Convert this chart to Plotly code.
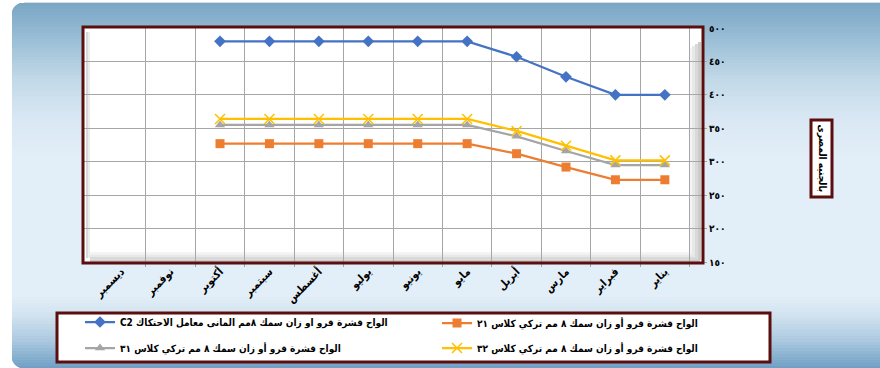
import plotly.graph_objects as go

W, H = 880, 368

months = ["يناير", "فبراير", "مارس", "أبريل", "مايو", "يونيو",
          "يوليو", "أغسطس", "سبتمبر", "أكتوبر", "نوفمبر", "ديسمبر"]

blue_c2 = [400, 400, 427, 457, 480, 480, 480, 480, 480, 480, None, None]
orange_21 = [273, 273, 292, 312, 327, 327, 327, 327, 327, 327, None, None]
gray_31 = [295, 295, 316, 338, 355, 355, 355, 355, 355, 355, None, None]
yellow_32 = [302, 302, 324, 346, 364, 364, 364, 364, 364, 364, None, None]

name_blue = "C2 الواح قشرة قرو او زان سمك ٨مم المانى معامل الاحتكاك"
name_orange = "الواح قشرة قرو أو زان سمك ٨ مم تركي كلاس ٢١"
name_gray = "الواح قشرة قرو أو زان سمك ٨ مم تركي كلاس ٣١"
name_yellow = "الواح قشرة قرو أو زان سمك ٨ مم تركي كلاس ٣٢"

y_ticks = [150, 200, 250, 300, 350, 400, 450, 500]
y_ticktext = ["١٥٠", "٢٠٠", "٢٥٠", "٣٠٠", "٣٥٠", "٤٠٠", "٤٥٠", "٥٠٠"]
y_title = "بالجنيه المصرى"

FONT = "DejaVu Sans Condensed, DejaVu Sans"
MAROON = "#5a0e0e"


def px(x):
    return x / W


def py(y):
    return 1 - y / H


def hexc(c):
    return tuple(int(c[i:i + 2], 16) for i in (1, 3, 5))


stops = [(0, "#77a4c4"), (40, "#9bbfd6"), (80, "#c2d9e8"), (120, "#d9e8f3"),
         (160, "#e3eff8"), (295, "#e3eff8"), (315, "#d2e3f0"), (340, "#adcae0"),
         (368, "#6f9fc5")]


def grad(y):
    for (y0, c0), (y1, c1) in zip(stops[:-1], stops[1:]):
        if y0 <= y <= y1:
            t = (y - y0) / (y1 - y0) if y1 > y0 else 0
            a, b = hexc(c0), hexc(c1)
            return "rgb(%d,%d,%d)" % tuple(round(a[i] + (b[i] - a[i]) * t) for i in range(3))
    return stops[-1][1]


shapes = []
y = 3
step = 3
while y < H:
    shapes.append(dict(type="rect", xref="paper", yref="paper", layer="below",
                       x0=px(12), x1=1.0, y0=py(y), y1=py(min(y + step + 0.6, H)),
                       fillcolor=grad(y + step / 2), line=dict(width=0)))
    y += step
r = 13
shapes.append(dict(type="path", xref="paper", yref="paper", layer="below",
                   path="M %f,%f L %f,%f Q %f,%f %f,%f Z" % (
                       px(11), py(2), px(12 + r), py(2), px(12), py(3), px(11), py(3 + r)),
                   fillcolor="white", line=dict(width=0)))
shapes.append(dict(type="path", xref="paper", yref="paper", layer="below",
                   path="M %f,%f L %f,%f Q %f,%f %f,%f Z" % (
                       px(11), py(369), px(12 + r), py(369), px(12), py(368), px(11), py(368 - r)),
                   fillcolor="white", line=dict(width=0)))
shapes.append(dict(type="rect", xref="paper", yref="paper", layer="below",
                   x0=px(24), x1=1, y0=py(3), y1=py(2), fillcolor="#d9dde2", line=dict(width=0)))

PL, PR, PT, PB = 84, 702, 28, 262
shapes.append(dict(type="rect", xref="paper", yref="paper", layer="below",
                   x0=px(PL), x1=px(PR), y0=py(PB), y1=py(PT),
                   fillcolor="white", line=dict(width=0)))
for i, col in enumerate(["#f4f4f4", "#e8e8e8", "#d9d9d9", "#cbcbcb"]):
    shapes.append(dict(type="rect", xref="paper", yref="paper", layer="below",
                       x0=px(689 + i * 3), x1=px(692 + i * 3), y0=py(PB - 2), y1=py(PT + 14 + (3 - i) * 2),
                       fillcolor=col, line=dict(width=0)))
    shapes.append(dict(type="rect", xref="paper", yref="paper", layer="below",
                       x0=px(PL + 6), x1=px(PR - 2), y0=py(252 + i * 2.5), y1=py(254.5 + i * 2.5),
                       fillcolor=col, line=dict(width=0)))
for i, col in enumerate(["#d8d8d8", "#ececec"]):
    shapes.append(dict(type="rect", xref="paper", yref="paper", layer="below",
                       x0=px(86 + i * 2), x1=px(88 + i * 2), y0=py(PB - 4), y1=py(PT + 4),
                       fillcolor=col, line=dict(width=0)))

shapes.append(dict(type="rect", xref="paper", yref="paper", layer="below",
                   x0=px(57), x1=px(770), y0=py(362), y1=py(313),
                   fillcolor="white", line=dict(color=MAROON, width=3)))
shapes.append(dict(type="rect", xref="paper", yref="paper", layer="above",
                   x0=px(PL - 1), x1=px(PR + 1), y0=py(PB + 1), y1=py(PT - 1),
                   fillcolor="rgba(0,0,0,0)", line=dict(color=MAROON, width=3)))

fig = go.Figure()

series = [
    (name_blue, blue_c2, "#4472c4", "diamond", 9, "legend"),
    (name_orange, orange_21, "#ed7d31", "square", 9, "legend2"),
    (name_gray, gray_31, "#a5a5a5", "triangle-up", 9, "legend3"),
    (name_yellow, yellow_32, "#ffc000", "x-thin", 10, "legend4"),
]
for name, vals, col, sym, size, lg in series:
    mk = dict(symbol=sym, size=size, color=col)
    if sym == "x-thin":
        mk["line"] = dict(color=col, width=1.5)
    fig.add_trace(go.Scatter(x=months, y=vals, name=name, mode="lines+markers",
                             line=dict(color=col, width=2.25), marker=mk,
                             legend=lg, connectgaps=False))

leg_common = dict(bgcolor="rgba(0,0,0,0)", borderwidth=0, xanchor="left", yanchor="middle",
                  font=dict(family=FONT, size=10, color="black", weight="bold"),
                  itemwidth=30)

fig.update_layout(
    width=W, height=H,
    margin=dict(l=0, r=0, t=0, b=0, pad=0, autoexpand=False),
    paper_bgcolor="white",
    plot_bgcolor="rgba(0,0,0,0)",
    shapes=shapes,
    showlegend=True,
    legend=dict(x=px(80), y=py(322), **leg_common),
    legend2=dict(x=px(437), y=py(323), **leg_common),
    legend3=dict(x=px(80), y=py(348), **leg_common),
    legend4=dict(x=px(437), y=py(348), **leg_common),
    xaxis=dict(domain=[px(PL), px(PR)], type="category", categoryorder="array",
               categoryarray=months, autorange="reversed", tickson="boundaries",
               automargin=False,
               showgrid=True, gridcolor="#a6a6a6", gridwidth=1,
               ticks="outside", ticklen=4, tickcolor="#a6a6a6",
               tickangle=-45, showline=False, zeroline=False,
               tickfont=dict(family=FONT, size=11, color="black", weight="bold")),
    yaxis=dict(domain=[py(PB), py(PT)], range=[150, 500], side="right",
               tickvals=y_ticks, ticktext=y_ticktext, automargin=False,
               showgrid=True, gridcolor="#a6a6a6", gridwidth=1,
               ticks="outside", ticklen=4, tickcolor="#a6a6a6",
               showline=False, zeroline=False,
               tickfont=dict(family=FONT, size=10, color="black", weight="bold")),
    annotations=[dict(x=px(821.5), y=py(158), xref="paper", yref="paper",
                      xanchor="center", yanchor="middle",
                      text=y_title, textangle=90, showarrow=False,
                      font=dict(family=FONT, size=10, color="black", weight="bold"),
                      bgcolor="white", bordercolor=MAROON, borderwidth=3, borderpad=3)],
)

fig.write_html("out.html", config={"displayModeBar": False},
               post_script="document.body.style.margin='0px';document.body.style.overflow='hidden';")
